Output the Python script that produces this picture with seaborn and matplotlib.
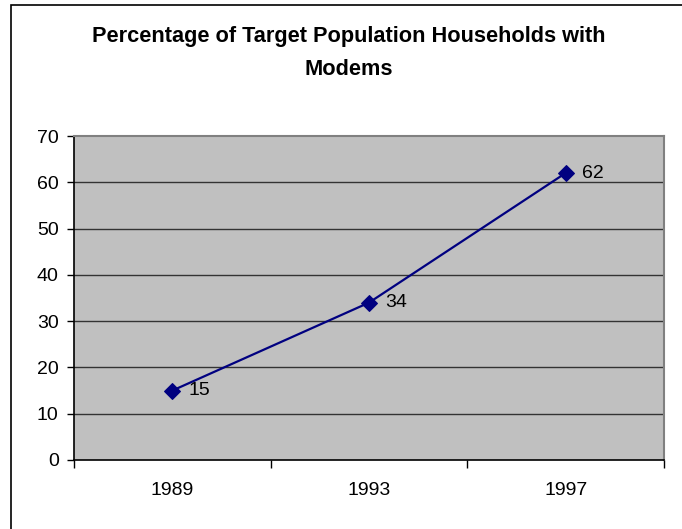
import matplotlib

matplotlib.use("Agg")
import matplotlib.pyplot as plt
import pandas as pd
import seaborn as sns
from matplotlib.patches import Rectangle

years = ["1989", "1993", "1997"]
percent = [15, 34, 62]
y_ticks = [0, 10, 20, 30, 40, 50, 60, 70]

df = pd.DataFrame({"year": years, "percent": percent})

sns.set_style("white")
plt.rcParams["font.family"] = ["Liberation Sans", "DejaVu Sans"]
plt.rcParams["text.color"] = "black"
plt.rcParams["xtick.color"] = "black"
plt.rcParams["ytick.color"] = "black"

fig = plt.figure(figsize=(6.82, 5.29), dpi=100)
ax = fig.add_axes([74 / 682, 1 - 460 / 529, 590 / 682, 324 / 529])

# outer chart border (cropped on the right and bottom, as in the original)
fig.patches.append(Rectangle((11 / 682, -0.05), 1.0, 1 - 5 / 529 + 0.05,
                             transform=fig.transFigure, fill=False,
                             edgecolor="black", linewidth=1.2))

ax.set_facecolor("#C0C0C0")
sns.lineplot(data=df, x="year", y="percent", ax=ax, color="#000080",
             marker="D", markersize=8, markeredgecolor="#000080",
             linewidth=1.6, zorder=3)

for i, v in enumerate(percent):
    ax.annotate(str(v), (i, v), xytext=(12, 0), textcoords="offset points",
                va="center", ha="left", fontsize=14)

ax.set_ylim(0, 70)
ax.set_yticks(y_ticks)
ax.set_xlim(-0.5, len(years) - 0.5)
ax.set_xticks(range(len(years)))
ax.set_xticklabels(years)
ax.set_xticks([i - 0.5 for i in range(len(years) + 1)], minor=True)
ax.tick_params(axis="x", which="major", length=0, pad=16, labelsize=14)
ax.tick_params(axis="x", which="minor", length=6, width=1, direction="out",
               color="black", bottom=True)
ax.tick_params(axis="y", length=5, width=1, direction="out", left=True,
               labelsize=14, pad=6)

for y in y_ticks[1:-1]:
    ax.axhline(y, color="#333333", linewidth=1, zorder=1)

for side in ["left", "bottom"]:
    ax.spines[side].set_color("black")
    ax.spines[side].set_linewidth(1.2)
for side in ["top", "right"]:
    ax.spines[side].set_color("#808080")
    ax.spines[side].set_linewidth(1.5)

ax.set_xlabel("")
ax.set_ylabel("")

fig.text(349 / 682, 1 - 53 / 529,
         "Percentage of Target Population Households with\nModems",
         ha="center", va="center", fontsize=15.7, fontweight="bold",
         linespacing=1.75)

fig.savefig("out.png", dpi=100)
